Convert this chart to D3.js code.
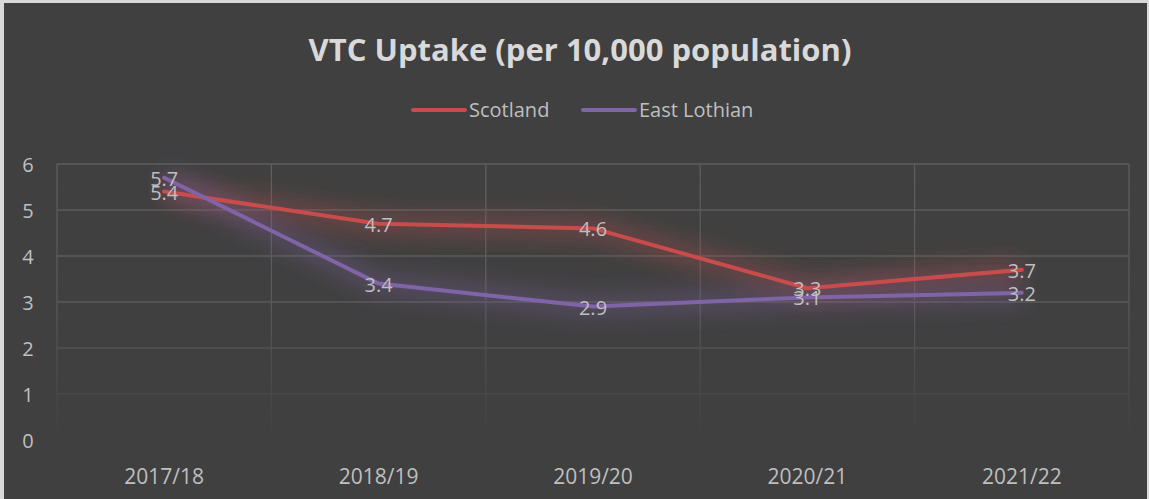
<!DOCTYPE html>
<html>
<head>
<meta charset="utf-8">
<script src="https://cdn.jsdelivr.net/npm/d3@7"></script>
<style>
  html, body { margin: 0; padding: 0; background: #ffffff; }
  svg { display: block; }
</style>
</head>
<body>
<svg id="chart" width="1149" height="499"></svg>
<script>
// chart data
const years = ['2017/18', '2018/19', '2019/20', '2020/21', '2021/22']
const scotland = [5.4, 4.7, 4.6, 3.3, 3.7]
const eastLothian = [5.7, 3.4, 2.9, 3.1, 3.2]
const yTicks = [0, 1, 2, 3, 4, 5, 6]
const seriesNames = ['Scotland', 'East Lothian']
const seriesColors = ['#c84c4c', '#8064a8']

const W = 1149, H = 499
const plot = { left: 57, right: 1129, top: 164, bottom: 440 }
const font = "'Open Sans', 'Liberation Sans', sans-serif"

const svg = d3.select('#chart')
const defs = svg.append('defs')

// background + thin light frame
svg.append('rect').attr('width', W).attr('height', H).attr('fill', '#d9d9d9')
svg.append('rect').attr('x', 4).attr('y', 3).attr('width', W - 6).attr('height', H - 3).attr('fill', '#404040')

// fade mask for the grid (it dims out toward the bottom)
const grad = defs.append('linearGradient').attr('id', 'fade')
  .attr('x1', 0).attr('y1', 0).attr('x2', 0).attr('y2', 1)
grad.append('stop').attr('offset', '0%').attr('stop-color', '#fff').attr('stop-opacity', 1)
grad.append('stop').attr('offset', '50%').attr('stop-color', '#fff').attr('stop-opacity', 0.85)
grad.append('stop').attr('offset', '100%').attr('stop-color', '#fff').attr('stop-opacity', 0)
defs.append('mask').attr('id', 'gridmask')
  .append('rect').attr('x', 0).attr('y', plot.top - 2).attr('width', W).attr('height', plot.bottom - plot.top + 4)
  .attr('fill', 'url(#fade)')

// soft glow under the lines
seriesColors.forEach((c, i) => {
  const f = defs.append('filter').attr('id', 'glow' + i)
    .attr('x', '-20%').attr('y', '-80%').attr('width', '140%').attr('height', '260%')
  f.append('feGaussianBlur').attr('in', 'SourceGraphic').attr('stdDeviation', 11)
})

const x = d3.scaleBand().domain(years).range([plot.left, plot.right])
const y = d3.scaleLinear().domain([0, 6]).range([plot.bottom, plot.top])

// grid
const grid = svg.append('g').attr('mask', 'url(#gridmask)')
grid.selectAll('line.h').data(yTicks.filter(d => d > 0)).join('line')
  .attr('x1', plot.left).attr('x2', plot.right)
  .attr('y1', d => y(d)).attr('y2', d => y(d))
  .attr('stroke', '#5e5e5e').attr('stroke-width', 1.3)
const vx = years.map(d => x(d)).concat([plot.right])
grid.selectAll('line.v').data(vx).join('line')
  .attr('x1', d => d).attr('x2', d => d)
  .attr('y1', plot.top).attr('y2', plot.bottom)
  .attr('stroke', '#5e5e5e').attr('stroke-width', 1.3)

// y axis labels
const yAxis = d3.axisLeft(y).tickValues(yTicks).tickFormat(d3.format('d')).tickSize(0).tickPadding(0)
const yg = svg.append('g').attr('transform', `translate(28,0)`).call(yAxis)
yg.select('.domain').remove()
yg.selectAll('text').attr('text-anchor', 'middle').attr('dy', '0.35em')
  .style('font-family', font).style('font-size', '20px').attr('fill', '#bfbfbf')

// x axis labels
const xAxis = d3.axisBottom(x).tickSize(0).tickPadding(0)
const xg = svg.append('g').attr('transform', `translate(0,477)`).call(xAxis)
xg.select('.domain').remove()
xg.selectAll('text').attr('dy', '0.35em')
  .style('font-family', font).style('font-size', '21px').attr('fill', '#bfbfbf')

// title
svg.append('text').attr('x', 580).attr('y', 50).attr('text-anchor', 'middle').attr('dy', '0.35em')
  .style('font-family', font).style('font-size', '31px').style('font-weight', 'bold')
  .attr('fill', '#d9d9d9').text('VTC Uptake (per 10,000 population)')

// legend
const legend = svg.append('g')
const legendX = [411, 581]
seriesNames.forEach((name, i) => {
  const g = legend.append('g').attr('transform', `translate(${legendX[i]},110)`)
  g.append('line').attr('x1', 2).attr('x2', 54).attr('y1', 0).attr('y2', 0)
    .attr('stroke', seriesColors[i]).attr('stroke-width', 4).attr('stroke-linecap', 'round')
  g.append('text').attr('x', 58).attr('dy', '0.35em')
    .style('font-family', font).style('font-size', '20px').attr('fill', '#bfbfbf').text(name)
})

// lines
const series = [scotland, eastLothian]
const line = d3.line().x((d, i) => x(years[i]) + x.bandwidth() / 2).y(d => y(d))
series.forEach((vals, i) => {
  svg.append('path').datum(vals).attr('d', line).attr('fill', 'none')
    .attr('stroke', seriesColors[i]).attr('stroke-width', 20).attr('stroke-opacity', 0.35)
    .attr('stroke-linejoin', 'round').attr('filter', `url(#glow${i})`)
})
series.forEach((vals, i) => {
  svg.append('path').datum(vals).attr('d', line).attr('fill', 'none')
    .attr('stroke', seriesColors[i]).attr('stroke-width', 4)
    .attr('stroke-linejoin', 'round').attr('stroke-linecap', 'round')
})

// data labels
series.forEach((vals, i) => {
  svg.append('g').selectAll('text').data(vals).join('text')
    .attr('x', (d, j) => x(years[j]) + x.bandwidth() / 2)
    .attr('y', d => y(d) + 1).attr('dy', '0.35em').attr('text-anchor', 'middle')
    .style('font-family', font).style('font-size', '20px').attr('fill', '#bfbfbf')
    .text(d => d.toFixed(1))
})
</script>
</body>
</html>
